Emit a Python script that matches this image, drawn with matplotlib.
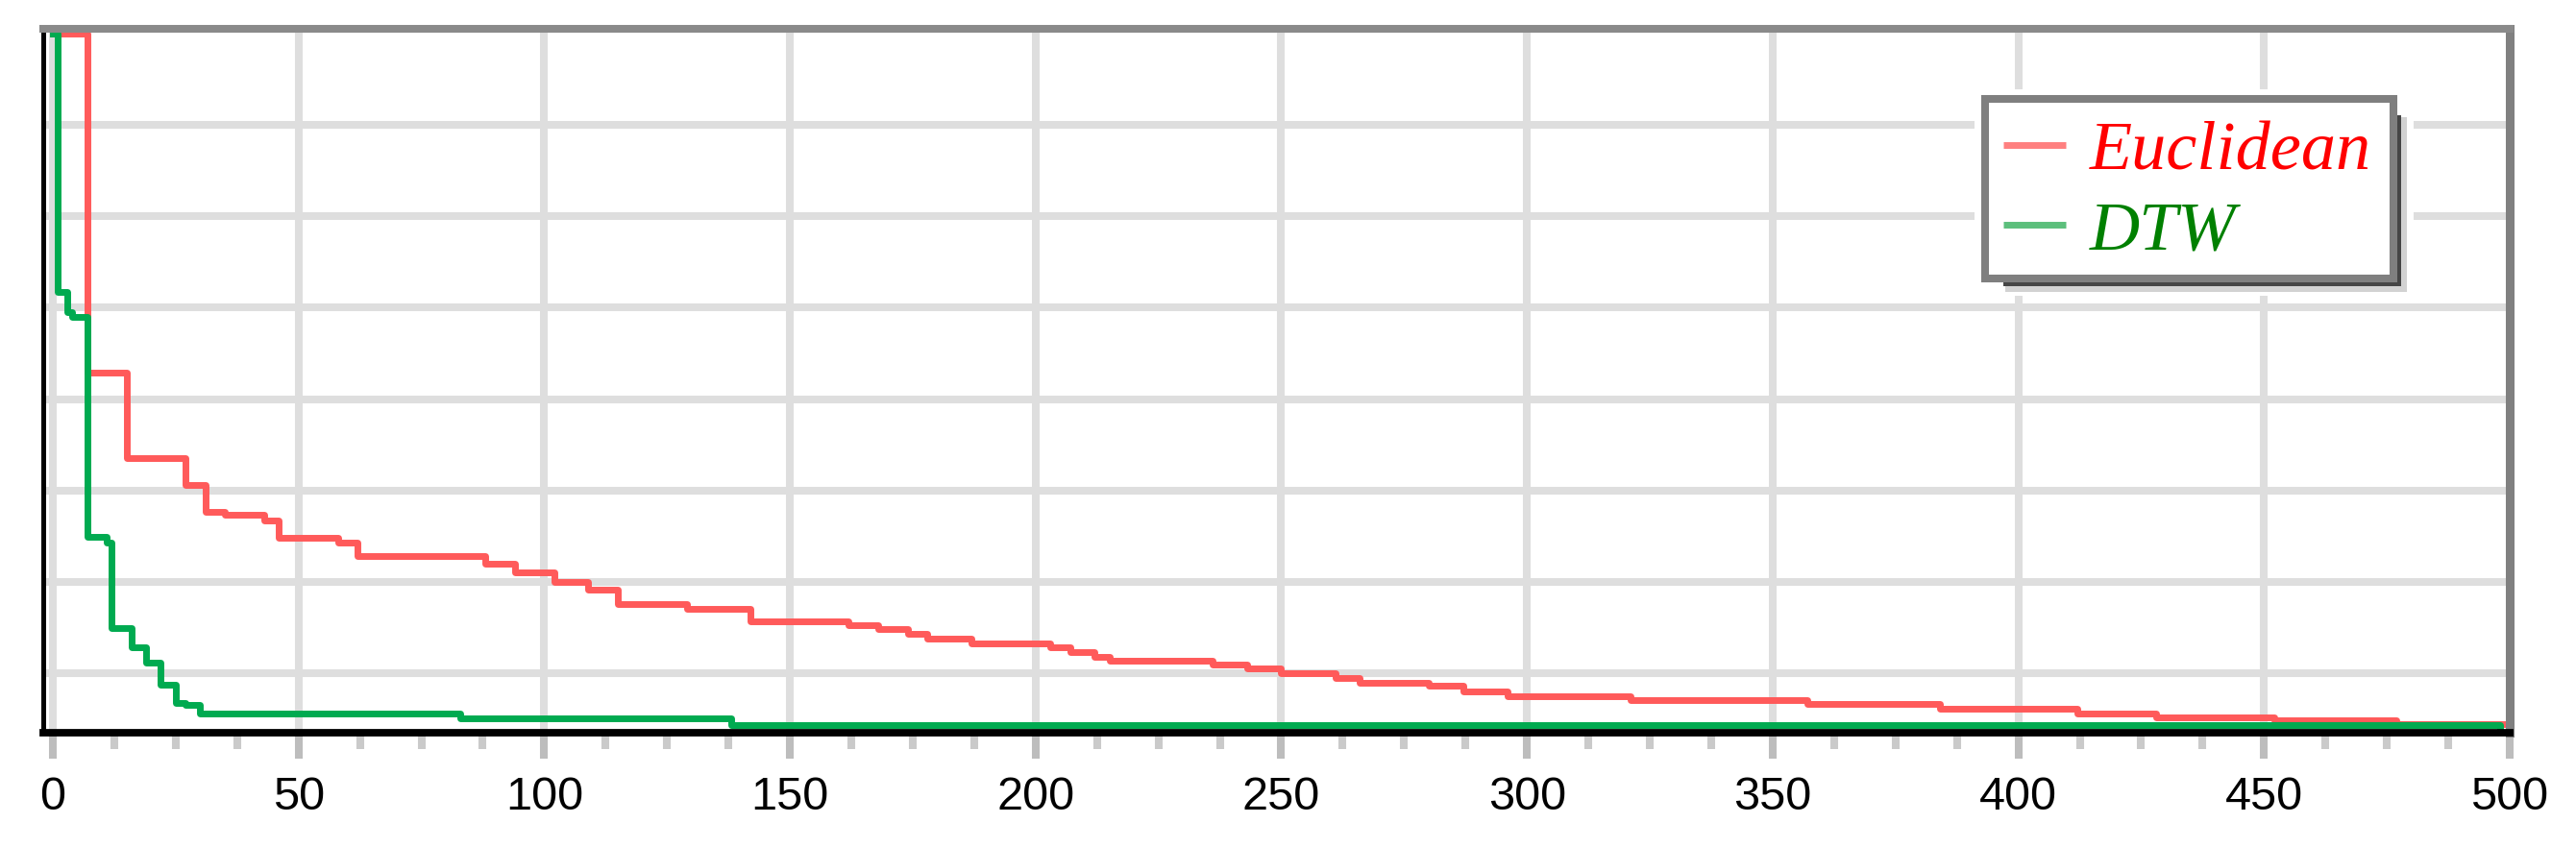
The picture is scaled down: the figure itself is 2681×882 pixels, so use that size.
import matplotlib
matplotlib.use('Agg')
import matplotlib.pyplot as plt
from matplotlib.lines import Line2D
from matplotlib.patches import Rectangle
from matplotlib.ticker import MultipleLocator

# ---- data ----
euclid_x = [0, 7, 15, 27, 31, 35, 43, 46, 58, 62,
            88, 94, 102, 109, 115, 129, 142, 162, 168, 174,
            178, 187, 203, 207, 212, 215, 236, 243, 250, 261,
            266, 280, 287, 296, 321, 357, 384, 412, 428, 452,
            477, 500]
euclid_y = [8.0, 4.29, 3.35, 3.06, 2.77, 2.73, 2.67, 2.48, 2.43, 2.285,
            2.20, 2.10, 2.00, 1.91, 1.76, 1.71, 1.57, 1.53, 1.48, 1.43,
            1.38, 1.33, 1.29, 1.23, 1.18, 1.14, 1.10, 1.05, 1.00, 0.95,
            0.90, 0.86, 0.80, 0.75, 0.71, 0.66, 0.61, 0.56, 0.52, 0.49,
            0.44, 0.44]

dtw_x = [0, 1, 3, 4, 7, 11, 12, 16, 19, 22, 25, 27, 30, 83, 138, 498, 500]
dtw_y = [8.0, 5.17, 4.95, 4.90, 2.49, 2.43, 1.50, 1.29, 1.12, 0.87,
         0.68, 0.65, 0.56, 0.51, 0.43, 0.34, 0.34]

series_names = ['Euclidean', 'DTW']
x_ticks = [0, 50, 100, 150, 200, 250, 300, 350, 400, 450, 500]
x_tick_labels = ['0', '50', '100', '150', '200', '250', '300', '350', '400', '450', '500']
y_grid = [1, 2, 3, 4, 5, 6, 7]

plt.rcParams['font.family'] = ['Liberation Sans', 'DejaVu Sans']

W, H = 2681, 882
fig = plt.figure(figsize=(W / 100, H / 100), dpi=100)
fig.patch.set_facecolor('white')
L, R, T, B = 44.5, 2612, 30, 763
ax = fig.add_axes([L / W, (H - B) / H, (R - L) / W, (B - T) / H])
ax.set_facecolor('white')

ax.step(euclid_x, euclid_y, where='post', color='#ff5a5a', lw=5, zorder=2)
ax.step(dtw_x, dtw_y, where='post', color='#00aa50', lw=5, zorder=2.1)

ax.set_xlim(-2.05, 500)
ax.set_ylim(0.35, 8.05)
ax.set_xticks(x_ticks)
ax.set_xticklabels(x_tick_labels)
ax.xaxis.set_minor_locator(MultipleLocator(12.5))
ax.set_yticks(y_grid)
ax.set_yticklabels([])
ax.tick_params(axis='y', length=0)
ax.tick_params(axis='x', which='major', length=19.4, width=5.8, color='#bdbdbd',
               pad=13, labelsize=35, labelcolor='black')
ax.tick_params(axis='x', which='minor', length=12.2, width=5.8, color='#cacaca')
ax.grid(True, which='major', color='#dedede', lw=5.8)
ax.set_axisbelow(True)

ax.spines['left'].set_color('black')
ax.spines['left'].set_linewidth(3.6)
ax.spines['bottom'].set_color('black')
ax.spines['bottom'].set_linewidth(5.6)
ax.spines['top'].set_color('#8a8a8a')
ax.spines['top'].set_linewidth(5.8)
ax.spines['right'].set_color('#808080')
ax.spines['right'].set_linewidth(6.5)


def px_rect(x0, y0, x1, y1, **kw):
    return Rectangle((x0 / W, 1 - y1 / H), (x1 - x0) / W, (y1 - y0) / H,
                     transform=fig.transFigure, clip_on=False, **kw)


ax.add_patch(px_rect(2055, 93, 2512, 308, fc='white', ec='none', zorder=4.0))
ax.add_patch(px_rect(2087, 122, 2505, 304, fc='#d2d2d2', ec='none', zorder=4.1))
ax.add_patch(px_rect(2085, 120, 2499, 298, fc='#454545', ec='none', zorder=4.2))
ax.add_patch(px_rect(2066, 103, 2491, 289.5, fc='white', ec='#7f7f7f', lw=5.8, zorder=4.3))

handles = [Line2D([], [], color='#ff8080', lw=5, solid_capstyle='butt'),
           Line2D([], [], color='#5cbf7c', lw=5, solid_capstyle='butt')]
leg = ax.legend(handles, series_names, loc='upper left',
                bbox_to_anchor=(2085 / W, 1 - 126 / H), bbox_transform=fig.transFigure,
                frameon=False, borderpad=0, borderaxespad=0,
                handlelength=0.9, handletextpad=0.35, labelspacing=0.24,
                prop={'family': 'Liberation Serif', 'style': 'italic', 'size': 52},
                labelcolor=['#ff0000', '#008000'])
leg.set_zorder(5)

fig.savefig('out.png', dpi=100, facecolor='white')
